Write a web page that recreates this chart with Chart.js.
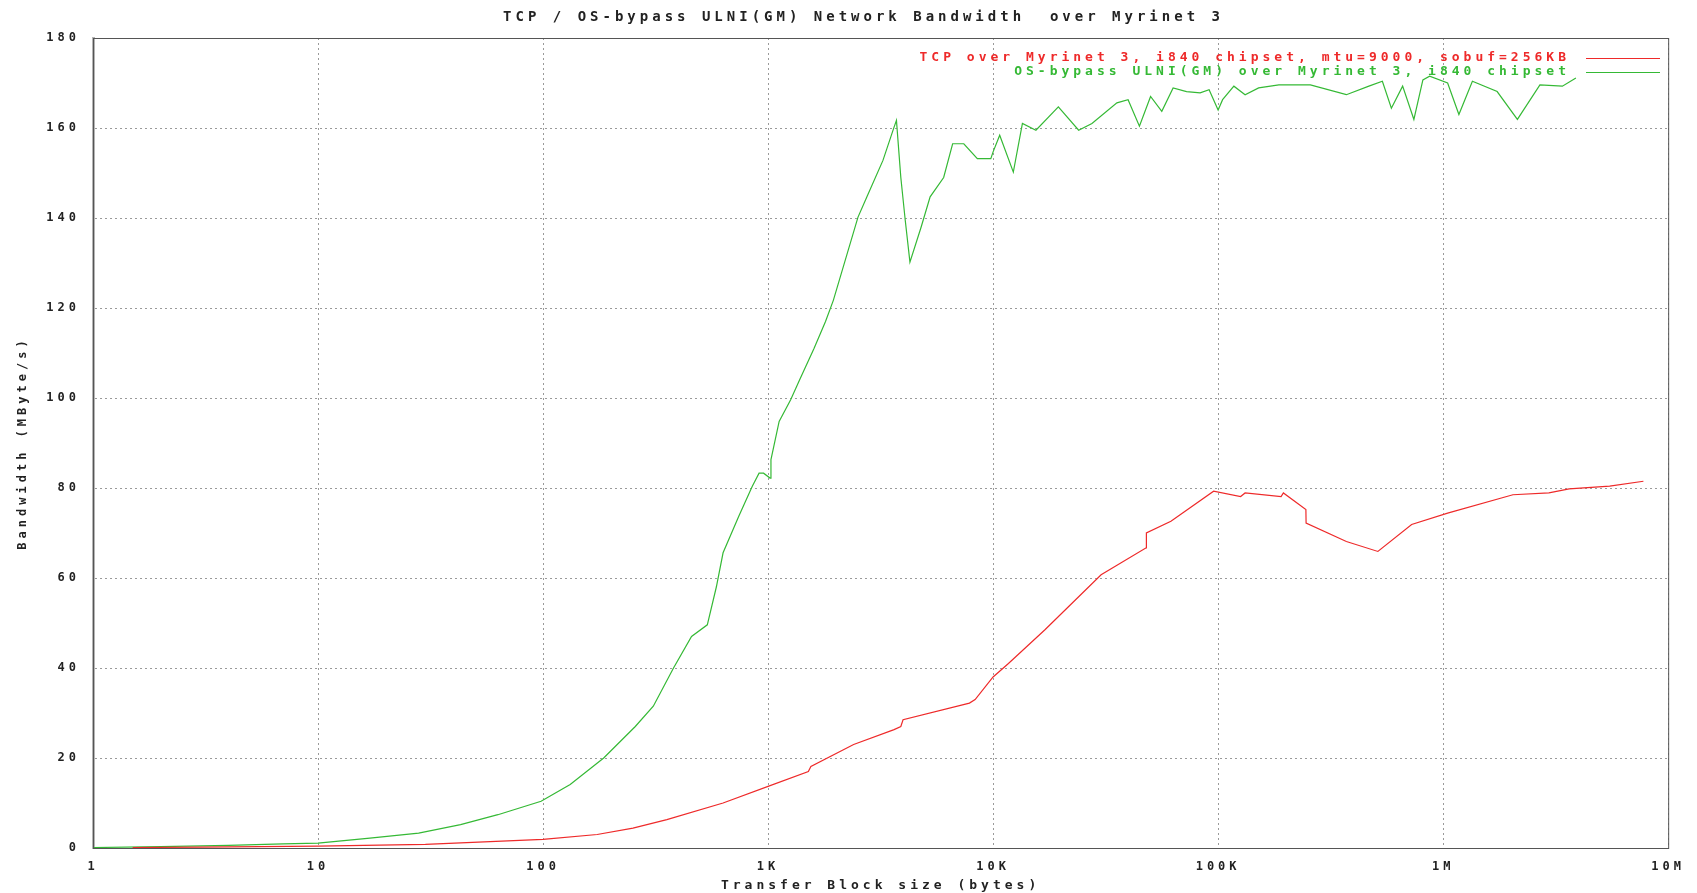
<!DOCTYPE html>
<html>
<head>
<meta charset="utf-8">
<title>TCP / OS-bypass ULNI(GM) Network Bandwidth over Myrinet 3</title>
<script src="https://cdn.jsdelivr.net/npm/chart.js@4/dist/chart.umd.min.js"></script>
<style>
  html, body { margin: 0; padding: 0; background: #fff; }
  #wrap { width: 1697px; height: 893px; }
</style>
</head>
<body>
<div id="wrap"><canvas id="bwChart"></canvas></div>
<script>
// tick labels
const xTickValues = [1, 10, 100, 1000, 10000, 100000, 1000000, 10000000];
const xTickLabels = ["1", "10", "100", "1K", "10K", "100K", "1M", "10M"];

// TCP over Myrinet 3 (block size in bytes, MByte/s)
const tcpSize = [1.5, 3, 10, 30, 100, 174, 251, 355, 631, 1000, 1510, 1550, 2400, 3630, 3890, 3980,
  7850, 8320, 10000, 11700, 17000, 30200, 47900, 48000, 61700, 95500, 125900, 131800, 190500,
  195000, 245500, 246000, 371500, 512900, 724400, 1047000, 2042000, 2951000, 3631000, 5495000, 7762000];
const tcpBw = [0.1, 0.2, 0.4, 0.8, 1.9, 3.0, 4.4, 6.3, 10, 13.7, 17, 18.1, 23, 26.3, 27, 28.5,
  32.2, 33, 38, 41, 48.5, 60.7, 66.7, 70, 72.6, 79.3, 78.1, 78.9, 78.1,
  78.9, 75.2, 72.2, 68.1, 65.9, 71.9, 74.4, 78.5, 78.9, 79.8, 80.4, 81.5];

// OS-bypass ULNI(GM) over Myrinet 3
const gmSize = [1, 2, 4, 7, 10, 17, 28, 43, 63, 98, 132, 186, 257, 309, 380, 457, 537, 589, 631, 741,
  851, 912, 955, 1020, 1030, 1120, 1260, 1380, 1600, 1800, 1950, 2510, 2750, 3240, 3630, 3720,
  3890, 4070, 4270, 4790, 5250, 6030, 6610, 7410, 8510, 9770, 10000, 10700, 12300, 13500, 15500,
  19500, 24000, 27500, 35500, 39800, 44700, 50100, 56200, 63100, 72400, 83200, 91200, 100000,
  104700, 117500, 131800, 151400, 186200, 257000, 371500, 467700, 537000, 588800, 660700, 741300,
  812800, 871000, 1047000, 1175000, 1349000, 1738000, 2138000, 2692000, 3388000, 3890000];
const gmBw = [0.1, 0.3, 0.6, 0.9, 1.1, 2.2, 3.3, 5.2, 7.4, 10.4, 14.1, 20, 27, 31.5, 40, 47, 49.6, 58, 65.6, 73.7,
  80.4, 83.3, 83.3, 82.2, 86.3, 94.8, 99.6, 104, 111, 117, 121.7, 140.2, 144.7, 152.8, 160.2, 161.7,
  149, 139.5, 130.2, 138, 144.7, 149, 156.5, 156.5, 153.2, 153.2, 154.7, 158.4, 150.2, 161, 159.5,
  164.7, 159.5, 161, 165.6, 166.3, 160.4, 167, 163.7, 168.9, 168.1, 167.8, 168.5, 164,
  166.3, 169.3, 167.4, 168.9, 169.6, 169.6, 167.4, 169.3, 170.4, 164.4, 169.3, 161.9,
  170.7, 171.5, 170, 163, 170.4, 168.1, 161.9, 169.6, 169.3, 171.1];

const toPoints = (xs, ys) => xs.map((x, i) => ({ x: x, y: ys[i] }));

const FONT = "'DejaVu Sans Mono', monospace";

// wide gnuplot-like lettering
const spacingPlugin = {
    id: "spacing",
    beforeUpdate(chart) { chart.ctx.letterSpacing = "4px"; },
    beforeDraw(chart) { chart.ctx.letterSpacing = "4px"; },
    // the plot title sits a little right of the canvas centre
    afterLayout(chart) {
        if (chart.titleBlock) chart.titleBlock.left = 36;
    }
};

// closed frame + gnuplot style key inside the plot
const framePlugin = {
    id: "frame",
    afterDraw(chart) {
        const { ctx, chartArea: a } = chart;
        ctx.save();
        ctx.strokeStyle = "#555";
        ctx.lineWidth = 1;
        ctx.strokeRect(a.left + 0.5, a.top + 0.5, a.right - a.left, a.bottom - a.top);

        ctx.font = "bold 13px " + FONT;
        ctx.textAlign = "right";
        ctx.textBaseline = "middle";
        chart.data.datasets.forEach((ds, i) => {
            const y = 58 + i * 14;
            ctx.fillStyle = ds.borderColor;
            ctx.fillText(ds.label, 1570, y);
            ctx.strokeStyle = ds.borderColor;
            ctx.beginPath();
            ctx.moveTo(1586, y + 0.5);
            ctx.lineTo(1660, y + 0.5);
            ctx.stroke();
        });
        ctx.restore();
    }
};

const ctx = document.getElementById("bwChart").getContext("2d");

new Chart(ctx, {
    type: "line",
    data: {
        datasets: [
            {
                label: "TCP over Myrinet 3, i840 chipset, mtu=9000, sobuf=256KB",
                data: toPoints(tcpSize, tcpBw),
                borderColor: "#ee2a2a",
                borderWidth: 1.2,
                pointRadius: 0,
                tension: 0
            },
            {
                label: "OS-bypass ULNI(GM) over Myrinet 3, i840 chipset",
                data: toPoints(gmSize, gmBw),
                borderColor: "#35b935",
                borderWidth: 1.2,
                pointRadius: 0,
                tension: 0
            }
        ]
    },
    options: {
        responsive: true,
        maintainAspectRatio: false,
        animation: false,
        devicePixelRatio: 1,
        layout: { padding: { left: 0, right: 6, top: 0, bottom: 0 } },
        plugins: {
            legend: { display: false },
            tooltip: { enabled: false },
            title: {
                display: true,
                text: "TCP / OS-bypass ULNI(GM) Network Bandwidth  over Myrinet 3",
                color: "#222",
                font: { family: FONT, size: 14, weight: "bold", lineHeight: 1.2 },
                padding: { top: 9, bottom: 12.2 }
            }
        },
        scales: {
            x: {
                type: "logarithmic",
                min: 1,
                max: 10000000,
                afterBuildTicks: scale => {
                    scale.ticks = xTickValues.map(v => ({ value: v }));
                },
                afterFit: scale => { scale.height = 45; },
                ticks: {
                    autoSkip: false,
                    maxRotation: 0,
                    padding: 12,
                    color: "#222",
                    font: { family: FONT, size: 12, weight: "bold" },
                    callback: value => {
                        const i = xTickValues.indexOf(value);
                        return i >= 0 ? xTickLabels[i] : "";
                    }
                },
                grid: {
                    color: "#9a9a9a",
                    lineWidth: 1,
                    drawTicks: false
                },
                border: { display: true, color: "#555", dash: [2, 3] },
                title: {
                    display: true,
                    text: "Transfer Block size (bytes)",
                    color: "#222",
                    font: { family: FONT, size: 13, weight: "bold", lineHeight: 1.2 },
                    padding: { top: 0, bottom: 0 }
                }
            },
            y: {
                min: 0,
                max: 180,
                afterFit: scale => { scale.width = 93; },
                ticks: {
                    stepSize: 20,
                    padding: 13,
                    color: "#222",
                    font: { family: FONT, size: 12, weight: "bold" }
                },
                grid: {
                    color: "#9a9a9a",
                    lineWidth: 1,
                    drawTicks: false
                },
                border: { display: true, color: "#b5b5b5", width: 3, dash: [2, 3] },
                title: {
                    display: true,
                    text: "Bandwidth (MByte/s)",
                    color: "#222",
                    font: { family: FONT, size: 12, weight: "bold", lineHeight: 1.2 },
                    padding: { top: 16, bottom: 0 }
                }
            }
        }
    },
    plugins: [spacingPlugin, framePlugin]
});
</script>
</body>
</html>
